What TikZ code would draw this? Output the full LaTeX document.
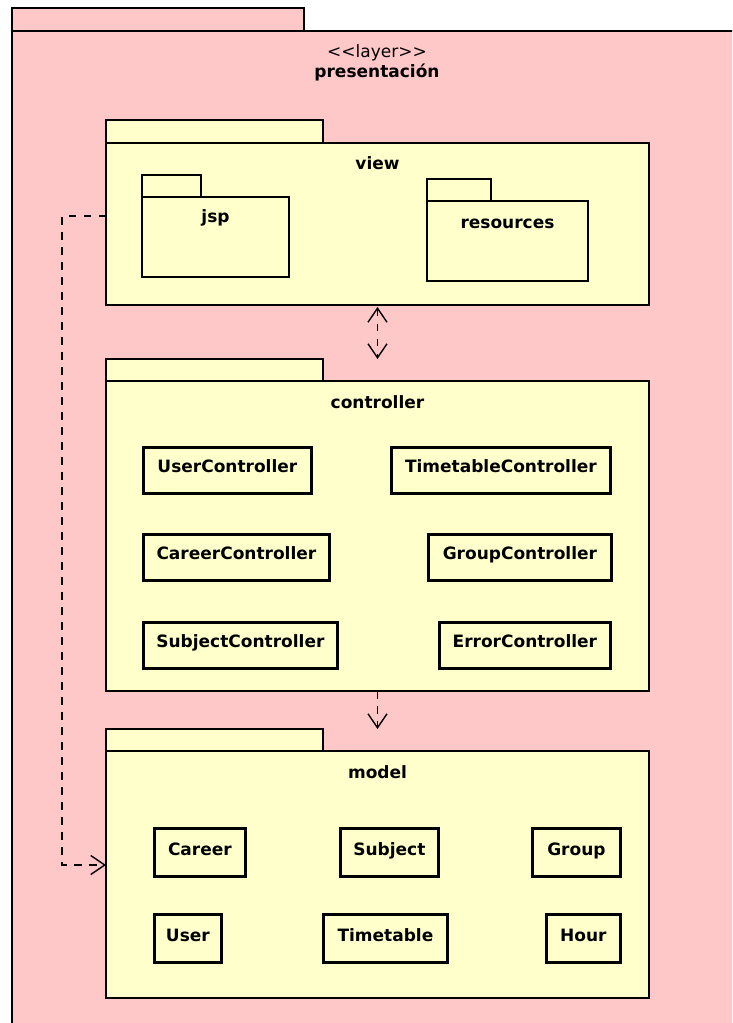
\documentclass[tikz,border=0pt]{standalone}
\usepackage{fontspec}
\setmainfont{DejaVu Sans}
\usetikzlibrary{arrows.meta,calc}
\definecolor{layerfill}{RGB}{255,200,200}
\definecolor{pkgfill}{RGB}{255,255,204}
\newcommand{\umlfont}{\fontsize{17}{19}\selectfont}
\begin{document}
\begin{tikzpicture}[x=1pt,y=-1pt,
  outline/.style={draw=black,line width=2.8pt},
  area/.style={draw=none,inner sep=0pt,outer sep=0pt,anchor=north west},
  title/.style={font=\bfseries\umlfont,inner sep=0pt,anchor=base},
  classbox/.style={outline,fill=pkgfill,font=\bfseries\umlfont,inner sep=0pt,
    anchor=north west,minimum height=46pt,text height=25pt,text depth=21pt},
  entitybox/.style={classbox,minimum height=48pt,text height=27pt,text depth=21pt},
  dep/.style={draw=black,line width=1.5pt,dash pattern=on 7.5pt off 7.5pt,
    >={Straight Barb[length=14pt,width=19pt,line width=1.4pt]}}
]
\useasboundingbox (0,0) rectangle (732,1023);

% outer layer package, running past the page edges
\begin{scope}
  \clip (0,0) rectangle (732,1023);
  \node[area,minimum width=740pt,minimum height=1040pt] (layer) at (12,8) {};
  \draw[outline,fill=layerfill] (layer.north west) rectangle ++(292,23);
  \draw[outline,fill=layerfill] ([yshift=-23pt]layer.north west) rectangle (layer.south east);
\end{scope}
\node[inner sep=0pt,anchor=base,font=\umlfont] (stereo) at (377,57) {<{}<layer>{}>};
\node[title] (layername) at (377,77) {presentación};

% view package
\node[area,minimum width=543pt,minimum height=185pt] (view) at (106,120) {};
\draw[outline,fill=pkgfill] (view.north west) rectangle ++(217,23);
\node[area,outline,fill=pkgfill,minimum width=543pt,minimum height=162pt] (viewbody) at (106,143) {};
\node[title] (viewname) at (377.5,169) {view};

% jsp sub-package
\node[area,minimum width=147pt,minimum height=102pt] (jsp) at (142,175) {};
\draw[outline,fill=pkgfill] (jsp.north west) rectangle ++(59,22);
\draw[outline,fill=pkgfill] ([yshift=-22pt]jsp.north west) rectangle (jsp.south east);
\node[title] (jspname) at (215.5,222) {jsp};

% resources sub-package
\node[area,minimum width=161pt,minimum height=102pt] (res) at (427,179) {};
\draw[outline,fill=pkgfill] (res.north west) rectangle ++(64,22);
\draw[outline,fill=pkgfill] ([yshift=-22pt]res.north west) rectangle (res.south east);
\node[title] (resname) at (507.5,228) {resources};

% controller package
\node[area,minimum width=543pt,minimum height=332pt] (ctrl) at (106,359) {};
\draw[outline,fill=pkgfill] (ctrl.north west) rectangle ++(217,22);
\node[area,outline,fill=pkgfill,minimum width=543pt,minimum height=310pt] (ctrlbody) at (106,381) {};
\node[title] (ctrlname) at (377.5,408) {controller};

\node[classbox,minimum width=168pt] (userctrl)  at (142,446) {UserController};
\node[classbox,minimum width=219pt] (ttctrl)    at (390,446) {TimetableController};
\node[classbox,minimum width=186pt] (careerctrl) at (142,533) {CareerController};
\node[classbox,minimum width=183pt] (groupctrl) at (427,533) {GroupController};
\node[classbox,minimum width=194pt] (subjctrl)  at (142,621) {SubjectController};
\node[classbox,minimum width=171pt] (errctrl)   at (438,621) {ErrorController};

% model package
\node[area,minimum width=543pt,minimum height=269pt] (model) at (106,729) {};
\draw[outline,fill=pkgfill] (model.north west) rectangle ++(217,22);
\node[area,outline,fill=pkgfill,minimum width=543pt,minimum height=247pt] (modelbody) at (106,751) {};
\node[title] (modelname) at (377.5,778) {model};

\node[entitybox,minimum width=91pt]  (career)    at (153,827) {Career};
\node[entitybox,minimum width=98pt]  (subject)   at (339,827) {Subject};
\node[entitybox,minimum width=88pt]  (group)     at (531,827) {Group};
\node[entitybox,minimum width=67pt]  (user)      at (153,913) {User};
\node[entitybox,minimum width=124pt] (timetable) at (322,913) {Timetable};
\node[entitybox,minimum width=74pt]  (hour)      at (545,913) {Hour};

% dependencies
\draw[dep,<->] ([yshift=-2pt]viewbody.south) -- (ctrl.north);
\draw[dep,->] (ctrlbody.south) -- (model.north);
\draw[dep,->] ([yshift=8pt]viewbody.west) -- ++(-44,0) |- ([yshift=9.5pt]modelbody.west);
\end{tikzpicture}
\end{document}
